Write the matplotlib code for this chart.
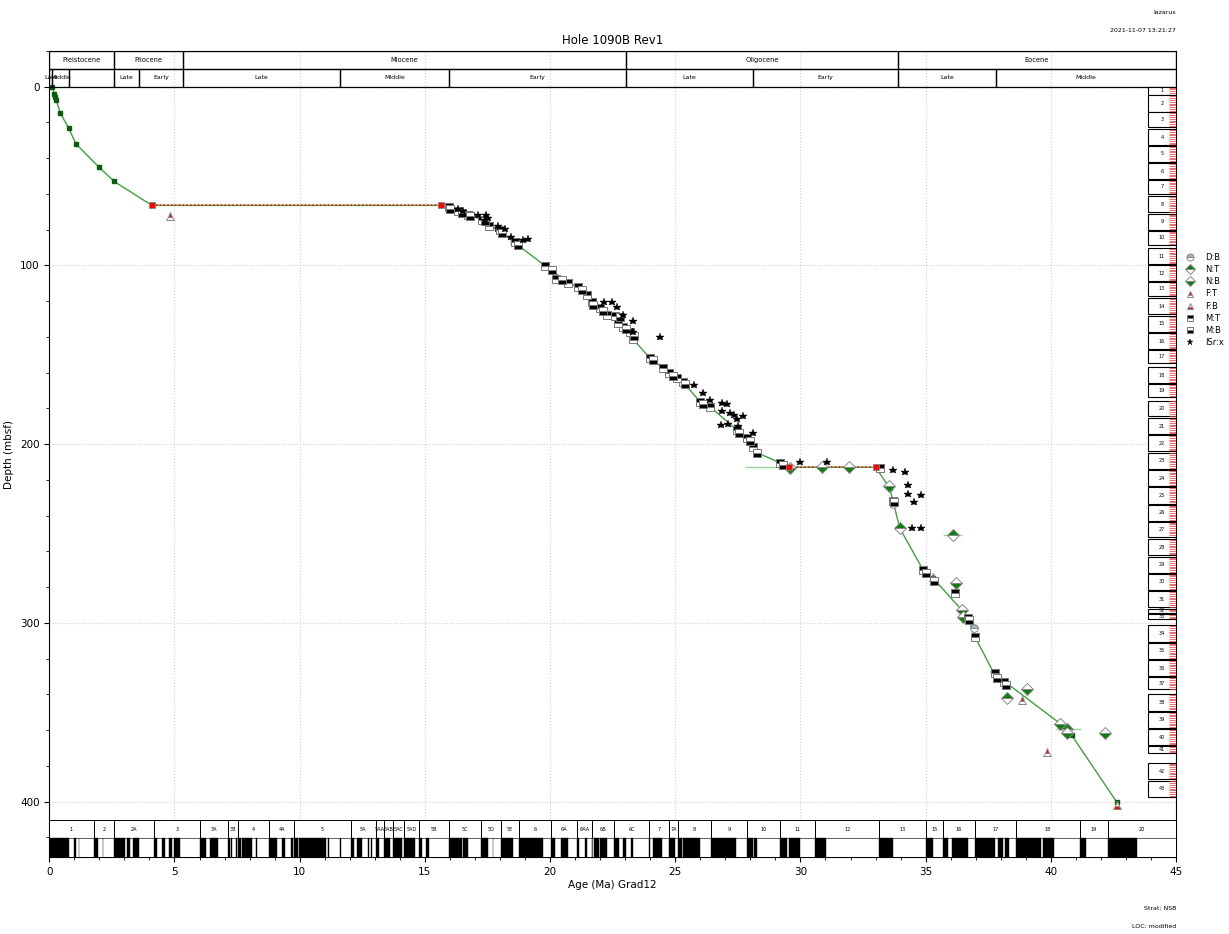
import matplotlib
matplotlib.use('Agg')
import matplotlib.pyplot as plt
from matplotlib.patches import Rectangle
from matplotlib.lines import Line2D
from matplotlib.ticker import MultipleLocator
import numpy as np

# ---------------- data ----------------
epoch_names = ['Pleistocene', 'Pliocene', 'Miocene', 'Oligocene', 'Eocene']
epoch_bounds = [0.0, 2.58, 5.333, 23.03, 33.9, 45.0]
sub_names = ['Late', 'Middle', '', 'Late', 'Early', 'Late', 'Middle', 'Early',
             'Late', 'Early', 'Late', 'Middle']
sub_bounds = [0.0, 0.126, 0.781, 2.58, 3.6, 5.333, 11.63, 15.97, 23.03, 28.1,
              33.9, 37.8, 45.0]

chron_names = ['1', '2', '2A', '3', '3A', '3B', '4', '4A', '5', '5A', '5AA', '5AB',
               '5AC', '5AD', '5B', '5C', '5D', '5E', '6', '6A', '6AA', '6B', '6C',
               '7', '7A', '8', '9', '10', '11', '12', '13', '15', '16', '17', '18',
               '19', '20']
chron_starts = [0.0, 1.778, 2.581, 4.187, 6.033, 7.140, 7.528, 8.769, 9.786, 12.049,
                13.032, 13.363, 13.739, 14.163, 14.775, 15.974, 17.235, 18.056,
                18.748, 20.040, 21.083, 21.66, 22.564, 23.962, 24.761, 25.099,
                26.420, 27.859, 29.183, 30.591, 33.157, 34.999, 35.706, 36.969,
                38.615, 41.154, 42.301]

norm_top = [0.000, 0.988, 1.173, 1.778, 2.128, 2.581, 3.116, 3.330, 4.187, 4.493,
            4.799, 4.997, 6.033, 6.436, 7.140, 7.251, 7.454, 7.528, 7.695, 8.254,
            8.771, 9.311, 9.647, 9.786, 9.984, 11.146, 11.592, 12.049, 12.272,
            12.735, 12.829, 13.032, 13.363, 13.739, 14.163, 14.775, 15.032,
            15.974, 16.303, 16.543, 17.235, 17.717, 18.056, 18.748, 20.040,
            20.439, 21.083, 21.403, 21.659, 21.767, 21.992, 22.564, 22.902,
            23.233, 23.962, 24.109, 24.761, 25.099, 25.304, 26.420, 27.859,
            28.141, 29.183, 29.527, 30.591, 33.157, 34.999, 35.706, 36.051,
            36.969, 37.872, 38.159, 38.615, 39.698, 41.154, 42.301]
norm_base = [0.781, 1.072, 1.185, 1.945, 2.148, 3.032, 3.207, 3.596, 4.300, 4.631,
             4.896, 5.235, 6.252, 6.733, 7.212, 7.285, 7.489, 7.642, 8.108, 8.300,
             9.105, 9.426, 9.721, 9.937, 11.056, 11.188, 11.657, 12.174, 12.474,
             12.770, 12.887, 13.183, 13.608, 14.070, 14.609, 14.870, 15.160,
             16.268, 16.472, 16.721, 17.533, 17.740, 18.524, 19.722, 20.213,
             20.709, 21.159, 21.483, 21.688, 21.936, 22.268, 22.754, 23.030,
             23.295, 24.000, 24.474, 24.984, 25.264, 25.987, 27.439, 28.087,
             28.278, 29.477, 29.970, 31.034, 33.705, 35.294, 35.892, 36.700,
             37.753, 38.093, 38.333, 39.627, 40.145, 41.390, 43.432]

core_names = [str(i) for i in range(1, 44)]
core_top = [0.0, 4.9, 14.4, 23.7, 33.2, 42.7, 52.2, 61.4, 71.1, 80.6, 90.3, 99.8,
            109.3, 118.3, 128.2, 137.9, 147.4, 156.8, 166.3, 175.6, 185.5, 195.0,
            204.7, 214.4, 224.1, 233.9, 243.4, 253.2, 263.0, 272.5, 282.4, 292.1,
            295.0, 301.4, 311.1, 320.8, 330.5, 339.9, 349.8, 359.5, 369.0, 378.3,
            388.2]
core_bot = [4.5, 14.2, 22.8, 32.6, 42.0, 51.7, 59.9, 70.1, 80.1, 88.5, 99.2, 108.7,
            117.0, 127.2, 137.0, 146.8, 154.7, 165.9, 173.7, 184.5, 194.3, 204.0,
            213.9, 223.6, 233.3, 242.8, 251.8, 262.2, 272.0, 281.6, 291.3, 294.3,
            297.9, 310.6, 320.1, 329.9, 337.2, 349.2, 358.7, 368.6, 372.7, 387.6,
            397.5]

# age-depth line (control points)
line_age = [0.12, 0.2, 0.24, 0.27, 0.44, 0.77, 1.07, 1.97, 2.59, 4.1, 15.65, 15.97,
            16.4, 16.87, 17.27, 17.87, 18.53, 19.8, 20.06, 20.73, 21.2, 21.46, 21.73,
            22.26, 22.93, 23.32, 23.99, 24.52, 25.32, 25.99, 26.39, 27.45, 27.92,
            28.32, 29.18, 29.56, 33.0, 33.57, 33.97, 34.9, 35.3, 36.44, 36.7, 36.97,
            37.7, 38.17, 40.37, 40.7, 40.83, 42.63]
line_depth = [0.0, 3.9, 5.8, 7.3, 14.7, 23.1, 32.1, 44.8, 53.0, 66.4, 66.4, 67.4,
              70.2, 71.3, 75.0, 79.7, 86.6, 100.2, 102.8, 109.6, 112.7, 116.5, 121.1,
              126.7, 134.2, 141.3, 151.9, 157.5, 165.4, 176.2, 179.0, 192.0, 196.7,
              205.1, 210.4, 212.9, 212.9, 224.7, 247.1, 270.4, 275.0, 292.8, 297.5,
              307.8, 327.4, 333.0, 356.3, 360.0, 362.8, 400.2]

hiatus_top_age = [4.1, 29.56]
hiatus_base_age = [15.65, 33.0]
hiatus_depth = [66.4, 212.9]

range_lo = [27.78, 31.5, 35.7, 40.2]
range_hi = [29.56, 32.3, 36.44, 41.2]
range_depth = [212.9, 212.9, 250.8, 359.5]

db_age = [33.71, 36.93]
db_depth = [233.7, 303.0]

nt_age = [33.97, 36.1, 38.24, 40.66]
nt_depth = [247.1, 250.8, 342.0, 359.1]

nb_age = [29.6, 30.85, 31.95, 33.55, 36.23, 36.44, 36.5, 39.03, 40.37, 40.63, 42.16]
nb_depth = [213.4, 212.9, 212.9, 223.6, 277.7, 292.8, 296.6, 337.2, 356.7, 361.6,
            361.6]

ft_age = [4.82, 35.3, 38.86, 39.86]
ft_depth = [72.2, 274.1, 343.3, 372.1]

fb_age = [42.63]
fb_depth = [402.0]

mt_age = [15.97, 16.33, 16.74, 17.27, 17.58, 18.0, 18.6, 19.8, 20.24, 20.73, 21.13,
          21.46, 21.66, 21.99, 22.26, 22.59, 22.73, 22.93, 23.2, 23.32, 23.99, 24.52,
          24.76, 25.06, 25.32, 25.99, 26.39, 27.45, 27.85, 28.12, 29.18, 33.18,
          33.68, 34.9, 36.16, 36.7, 36.97, 37.77, 38.13]
mt_depth = [67.4, 69.8, 71.7, 74.5, 78.2, 80.1, 86.6, 100.2, 107.7, 109.6, 112.2,
            116.5, 120.3, 123.9, 127.7, 128.2, 132.0, 134.2, 137.0, 141.3, 151.9,
            157.5, 160.3, 163.1, 165.4, 176.2, 179.0, 192.0, 196.7, 201.4, 210.4,
            213.4, 232.0, 270.4, 283.3, 297.5, 307.8, 328.3, 333.0]

mb_age = [16.0, 16.47, 16.8, 17.4, 18.07, 18.73, 20.06, 20.46, 21.26, 21.73, 22.1,
          22.79, 23.05, 23.35, 24.1, 24.9, 25.4, 26.1, 27.55, 28.0, 28.25, 29.3,
          33.72, 35.0, 35.35, 36.75, 37.86, 38.2]
mb_depth = [68.5, 70.7, 72.6, 75.4, 81.6, 88.5, 102.8, 108.1, 113.7, 122.2, 125.5,
            128.6, 135.5, 139.5, 152.8, 161.8, 166.5, 177.5, 193.5, 198.5, 205.1,
            211.5, 232.5, 272.0, 276.5, 298.5, 330.6, 334.5]

isr_age = [16.33, 16.53, 17.13, 17.44, 17.53, 17.4, 17.93, 18.2, 18.46, 18.9, 19.13,
           22.16, 22.46, 22.69, 22.9, 23.32, 23.3, 24.41, 25.75, 26.12, 26.39, 26.86,
           27.08, 26.86, 27.19, 27.33, 27.7, 27.45, 27.52, 26.82, 27.12, 28.12, 30.0,
           31.08, 33.68, 34.17, 34.28, 34.28, 34.81, 34.53, 34.44, 34.8]
isr_depth = [68.5, 69.3, 71.7, 71.7, 73.6, 74.5, 77.8, 79.7, 83.8, 86.0, 85.3, 120.7,
             120.7, 123.3, 127.7, 130.8, 137.0, 139.8, 166.9, 171.2, 175.3, 176.8,
             177.7, 181.3, 182.4, 183.8, 184.3, 185.7, 190.0, 189.4, 188.5, 193.5,
             210.1, 210.1, 214.5, 215.4, 222.9, 227.9, 228.5, 232.6, 247.1, 247.1]

# ---------------- layout ----------------
W, H = 1229, 934
fig = plt.figure(figsize=(W / 100, H / 100), dpi=100)
x0, x1, ytop, ybot = 49.3, 1176, 51, 857
ax = fig.add_axes([x0 / W, 1 - ybot / H, (x1 - x0) / W, (ybot - ytop) / H])

XMAX = 45.0
Y_TOP, Y_BOT = -20.0, 431.0
EP_TOP, EP_MID, EP_BOT = -20.0, -10.0, 0.0
CH_TOP, CH_MID, CH_BOT = 410.4, 420.5, 431.0

ax.set_xlim(0, XMAX)
ax.set_ylim(Y_BOT, Y_TOP)
ax.xaxis.set_major_locator(MultipleLocator(5))
ax.xaxis.set_minor_locator(MultipleLocator(1))
ax.yaxis.set_major_locator(MultipleLocator(100))
ax.yaxis.set_minor_locator(MultipleLocator(20))
ax.tick_params(labelsize=7.5)
ax.grid(True, which='major', linestyle=':', color='#cfcfcf', linewidth=0.8)
ax.set_axisbelow(True)
ax.set_title('Hole 1090B Rev1', fontsize=8.5, pad=5)
ax.set_xlabel('Age (Ma) Grad12', fontsize=7.5, labelpad=2)
ax.set_ylabel('Depth (mbsf)', fontsize=7.5)

# header: epochs
for i, name in enumerate(epoch_names):
    a0, a1 = epoch_bounds[i], min(epoch_bounds[i + 1], XMAX)
    ax.add_patch(Rectangle((a0, EP_TOP), a1 - a0, EP_MID - EP_TOP, fill=False,
                           ec='black', lw=0.9, zorder=4))
    ax.text((a0 + a1) / 2, (EP_TOP + EP_MID) / 2, name, ha='center', va='center',
            fontsize=4.8, zorder=5)
for i, name in enumerate(sub_names):
    a0, a1 = sub_bounds[i], min(sub_bounds[i + 1], XMAX)
    ax.add_patch(Rectangle((a0, EP_MID), a1 - a0, EP_BOT - EP_MID, fill=False,
                           ec='black', lw=0.9, zorder=4))
    if name:
        ax.text((a0 + a1) / 2, (EP_MID + EP_BOT) / 2, name, ha='center',
                va='center', fontsize=4.5, zorder=5)

# chron bar
ch_ends = chron_starts[1:] + [XMAX]
for name, a0, a1 in zip(chron_names, chron_starts, ch_ends):
    ax.add_patch(Rectangle((a0, CH_TOP), a1 - a0, CH_MID - CH_TOP, facecolor='white',
                           ec='black', lw=0.7, zorder=4))
    ax.text((a0 + a1) / 2, (CH_TOP + CH_MID) / 2, name, ha='center', va='center',
            fontsize=3.6, zorder=5)
    ax.add_patch(Rectangle((a0, CH_MID), a1 - a0, CH_BOT - CH_MID, facecolor='white',
                           ec='#555555', lw=0.5, zorder=4))
for t, b in zip(norm_top, norm_base):
    ax.add_patch(Rectangle((t, CH_MID), min(b, XMAX) - t, CH_BOT - CH_MID,
                           facecolor='black', ec='black', lw=0.3, zorder=4.5))

# core column
core_x0 = 43.88
for name, t, b in zip(core_names, core_top, core_bot):
    ax.add_patch(Rectangle((core_x0, t), XMAX - core_x0, b - t, facecolor='white',
                           ec='black', lw=0.8, zorder=4))
    ax.text((core_x0 + XMAX) / 2, (t + b) / 2, name, ha='center', va='center',
            fontsize=3.6, zorder=5)
    ticks = np.arange(t + 0.5, b, 1.0)
    ax.hlines(ticks, 44.74, XMAX, colors='#f03030', linewidth=0.5, zorder=5)

# range bars
ax.hlines(range_depth, range_lo, range_hi, colors='#9bd39b', linewidth=1.0,
          zorder=2.5)

# age-depth line
ax.plot(line_age, line_depth, color='#3ba33b', lw=1.0, zorder=3,
        marker='s', ms=2.4, mfc='#0b5d0b', mec='#0b5d0b')
for a0, a1, d in zip(hiatus_top_age, hiatus_base_age, hiatus_depth):
    ax.plot([a0, a1], [d, d], color='red', ls=(0, (1, 1.5)), lw=1.1, zorder=3.2)
ax.plot(hiatus_top_age + hiatus_base_age, hiatus_depth + hiatus_depth, ls='none',
        marker='s', ms=5, mfc='red', mec='#888888', mew=0.6, zorder=6)

# event markers
styles = {
    'D:B': dict(marker='o', fillstyle='top', mfc='#9fb4d4', mfcalt='white',
                mec='#888888', ms=5.5, mew=0.7),
    'N:T': dict(marker='D', fillstyle='top', mfc='#0a800a', mfcalt='white',
                mec='#888888', ms=6, mew=0.7),
    'N:B': dict(marker='D', fillstyle='bottom', mfc='#0a800a', mfcalt='white',
                mec='#888888', ms=6, mew=0.7),
    'F:T': dict(marker='^', fillstyle='top', mfc='#e01010', mfcalt='white',
                mec='#888888', ms=5.5, mew=0.7),
    'F:B': dict(marker='^', fillstyle='bottom', mfc='#e01010', mfcalt='white',
                mec='#888888', ms=5.5, mew=0.7),
    'M:T': dict(marker='s', fillstyle='top', mfc='black', mfcalt='white',
                mec='#777777', ms=5.8, mew=0.7),
    'M:B': dict(marker='s', fillstyle='bottom', mfc='black', mfcalt='white',
                mec='#777777', ms=5.8, mew=0.7),
    'ISr:x': dict(marker='*', fillstyle='full', mfc='black', mec='black', ms=6.2,
                  mew=0.3),
}
series = [('D:B', db_age, db_depth), ('N:T', nt_age, nt_depth),
          ('N:B', nb_age, nb_depth), ('F:T', ft_age, ft_depth),
          ('F:B', fb_age, fb_depth), ('M:T', mt_age, mt_depth),
          ('M:B', mb_age, mb_depth), ('ISr:x', isr_age, isr_depth)]
handles = []
for name, xs, ys in series:
    ax.plot(xs, ys, ls='none', zorder=5.5, **styles[name])
    hstyle = dict(styles[name])
    hstyle['ms'] = 5
    handles.append(Line2D([], [], ls='none', label=name, **hstyle))

fig.legend(handles=handles, loc='upper left',
           bbox_to_anchor=(1186 / W, 1 - 253 / H), frameon=False, fontsize=6,
           handlelength=1.0, handletextpad=1.3, labelspacing=0.38,
           borderpad=0, borderaxespad=0)

# corner annotations
fs_small = 4.5
fig.text(x1 / W, 1 - 12 / H, 'lazarus', ha='right', va='center', fontsize=fs_small)
fig.text(x1 / W, 1 - 31 / H, '2021-11-07 13:21:27', ha='right', va='center',
         fontsize=fs_small)
fig.text(x1 / W, 1 - 909 / H, 'Strat: NSB', ha='right', va='center',
         fontsize=fs_small)
fig.text(x1 / W, 1 - 927 / H, 'LOC: modified', ha='right', va='center',
         fontsize=fs_small)

fig.savefig('out.png', dpi=100)
